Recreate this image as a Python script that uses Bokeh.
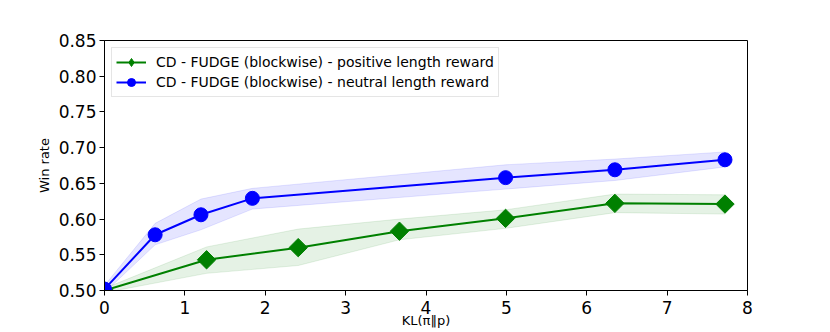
import numpy as np
from bokeh.plotting import figure
from bokeh.models import Legend, LegendItem, FixedTicker, NumeralTickFormatter, Range1d
from bokeh.embed import file_html
from bokeh.resources import INLINE

# Data
pos_kl = [0.0, 1.27, 2.41, 3.67, 4.99, 6.35, 7.72]
pos_win = [0.500, 0.543, 0.560, 0.583, 0.601, 0.622, 0.621]
pos_lo = [0.497, 0.524, 0.535, 0.571, 0.587, 0.609, 0.607]
pos_hi = [0.503, 0.561, 0.586, 0.600, 0.613, 0.635, 0.634]

neu_kl = [0.0, 0.63, 1.20, 1.84, 4.99, 6.35, 7.72]
neu_win = [0.502, 0.578, 0.606, 0.629, 0.658, 0.669, 0.683]
neu_lo = [0.497, 0.564, 0.585, 0.614, 0.642, 0.654, 0.673]
neu_hi = [0.507, 0.594, 0.628, 0.643, 0.676, 0.684, 0.694]

pos_label = "CD - FUDGE (blockwise) - positive length reward"
neu_label = "CD - FUDGE (blockwise) - neutral length reward"
x_ticks = [0, 1, 2, 3, 4, 5, 6, 7, 8]
y_ticks = [0.50, 0.55, 0.60, 0.65, 0.70, 0.75, 0.80, 0.85]

FONT = "DejaVu Sans"

p = figure(width=830, height=332, output_backend="svg", toolbar_location=None,
           x_range=Range1d(0, 8), y_range=Range1d(0.50, 0.85),
           min_border_left=104, min_border_right=83, min_border_top=40, min_border_bottom=42)
p.background_fill_color = "white"
p.border_fill_color = "white"
p.outline_line_color = "black"
p.outline_line_width = 1
p.xgrid.visible = False
p.ygrid.visible = False

# bands
p.varea(x=pos_kl, y1=pos_lo, y2=pos_hi, fill_color="green", fill_alpha=0.1)
p.line(pos_kl, pos_lo, line_color="green", line_alpha=0.1, line_width=1)
p.line(pos_kl, pos_hi, line_color="green", line_alpha=0.1, line_width=1)
p.varea(x=neu_kl, y1=neu_lo, y2=neu_hi, fill_color="blue", fill_alpha=0.1)
p.line(neu_kl, neu_lo, line_color="blue", line_alpha=0.1, line_width=1)
p.line(neu_kl, neu_hi, line_color="blue", line_alpha=0.1, line_width=1)

# lines + markers
gl = p.line(pos_kl, pos_win, line_color="green", line_width=2)
# diamond (used for the legend glyph), covered by the rotated square markers
gd = p.scatter(pos_kl, pos_win, marker="diamond", size=13,
               fill_color="green", line_color="green")
gs = p.scatter(pos_kl, pos_win, marker="square", angle=np.pi / 4, size=13,
               fill_color="green", line_color="green")
bl = p.line(neu_kl, neu_win, line_color="blue", line_width=2)
bs = p.scatter(neu_kl, neu_win, marker="circle", size=14,
               fill_color="blue", line_color="blue")

legend = Legend(items=[LegendItem(label=pos_label, renderers=[gl, gd]),
                       LegendItem(label=neu_label, renderers=[bl, bs])],
                location="top_left")
legend.margin = 7
legend.padding = 4
legend.spacing = 0
legend.glyph_width = 30
legend.glyph_height = 20
legend.label_height = 20
legend.label_standoff = 10
legend.label_text_font = FONT
legend.label_text_font_size = "14px"
legend.label_text_color = "black"
legend.border_line_color = "#cccccc"
legend.border_line_width = 1
legend.background_fill_alpha = 0.8
p.add_layout(legend)

for ax in (p.xaxis[0], p.yaxis[0]):
    ax.axis_line_color = "black"
    ax.major_tick_line_color = "black"
    ax.major_tick_out = 5
    ax.major_tick_in = 0
    ax.minor_tick_line_color = None
    ax.major_label_text_font = FONT
    ax.major_label_text_font_size = "17px"
    ax.major_label_text_color = "black"
    ax.axis_label_text_font = FONT
    ax.axis_label_text_font_size = "13px"
    ax.axis_label_text_font_style = "normal"
    ax.axis_label_text_color = "black"

p.xaxis.ticker = FixedTicker(ticks=x_ticks)
p.yaxis.ticker = FixedTicker(ticks=y_ticks)
p.yaxis.formatter = NumeralTickFormatter(format="0.00")
p.xaxis.axis_label = "KL(π‖p)"
p.yaxis.axis_label = "Win rate"
p.xaxis.major_label_standoff = 5
p.xaxis.axis_label_standoff = -4
p.yaxis.major_label_standoff = 3
p.yaxis.axis_label_standoff = 4

open("out.html", "w").write(file_html(p, INLINE))
